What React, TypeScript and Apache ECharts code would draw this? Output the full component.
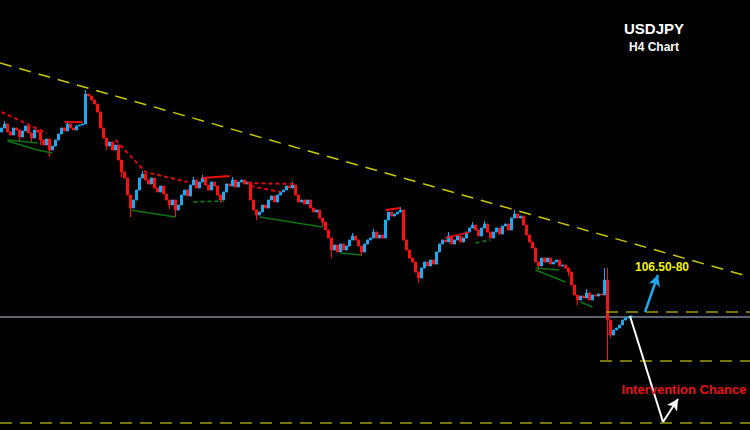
import React, { useEffect, useRef } from "react";
import * as echarts from "echarts";

// H4 closes (USDJPY), one per bar; opens follow the previous close
const firstOpen = 108.03;
const closes = [
  108.07, 108.11, 108.03, 108.0, 108.07, 108.05, 107.98, 108.04, 108.09, 108.02,
  107.97, 108.05, 108.03, 107.95, 107.9, 107.96, 107.85, 107.89, 107.95, 108.01,
  108.07, 108.04, 108.11, 108.07, 108.05, 108.09, 108.1, 108.11, 108.41, 108.39,
  108.35, 108.31, 108.23, 108.07, 107.97, 107.89, 107.93, 107.85, 107.9, 107.75,
  107.63, 107.57, 107.4, 107.27, 107.35, 107.45, 107.57, 107.61, 107.55, 107.51,
  107.57, 107.47, 107.43, 107.49, 107.41, 107.35, 107.3, 107.35, 107.25, 107.3,
  107.4, 107.45, 107.39, 107.5, 107.55, 107.47, 107.53, 107.57, 107.5, 107.45,
  107.53, 107.49, 107.4, 107.35, 107.43, 107.51, 107.49, 107.55, 107.48, 107.53,
  107.55, 107.51, 107.53, 107.35, 107.25, 107.2, 107.23, 107.3, 107.27, 107.35,
  107.39, 107.33, 107.4, 107.43, 107.45, 107.49, 107.47, 107.5, 107.4, 107.33,
  107.35, 107.31, 107.35, 107.27, 107.23, 107.25, 107.17, 107.13, 107.05, 106.97,
  106.85, 106.9, 106.83, 106.91, 106.85, 106.89, 106.95, 106.99, 106.95, 106.89,
  106.83, 106.91, 106.95, 106.97, 107.03, 106.97, 107.0, 106.97, 107.15, 107.23,
  107.19, 107.21, 107.23, 107.25, 106.95, 106.85, 106.77, 106.73, 106.63, 106.57,
  106.67, 106.73, 106.69, 106.75, 106.71, 106.83, 106.91, 106.95, 106.93, 106.99,
  106.91, 106.95, 106.99, 106.93, 106.97, 107.03, 107.07, 107.1, 107.05, 106.99,
  107.07, 107.11, 107.03, 106.97, 107.03, 107.07, 107.01, 107.09, 107.11, 107.05,
  107.17, 107.21, 107.17, 107.19, 107.1, 107.0, 106.93, 106.87, 106.73, 106.69,
  106.77, 106.73, 106.77, 106.71, 106.73, 106.75, 106.69, 106.7, 106.67, 106.63,
  106.5, 106.4, 106.35, 106.39, 106.37, 106.42, 106.35, 106.4, 106.39, 106.41,
  106.4, 106.55, 106.15, 106.0, 106.05, 106.07, 106.1, 106.15, 106.17, 106.18,
  106.19,
];
// bars whose wicks reach beyond the body: [bar, high, low]
const wicks: [number, number | null, number | null][] = [
  [1, 108.14, null],
  [6, null, 107.94],
  [10, null, 107.93],
  [13, null, 107.9],
  [16, null, 107.78],
  [22, 108.14, null],
  [28, 108.45, null],
  [35, null, 107.85],
  [40, null, 107.58],
  [43, null, 107.18],
  [47, 107.64, null],
  [56, null, 107.26],
  [58, null, 107.18],
  [64, 107.58, null],
  [67, 107.6, null],
  [73, null, 107.32],
  [77, 107.58, null],
  [85, null, 107.15],
  [97, 107.53, null],
  [107, null, 107.08],
  [110, null, 106.77],
  [117, 107.02, null],
  [120, null, 106.79],
  [124, 107.06, null],
  [133, 107.28, null],
  [139, null, 106.52],
  [149, 107.03, null],
  [157, 107.13, null],
  [161, 107.14, null],
  [171, 107.25, null],
  [179, null, 106.65],
  [189, null, 106.59],
  [192, null, 106.3],
  [195, 106.46, null],
  [201, 106.67, null],
  [202, 106.67, 105.75],
  [203, null, 105.97],
];
const totalSlots = 250;

// pattern lines: [bar, price] points
const redSolid = [
  [[21, 108.13], [27, 108.13]],
  [[67, 107.57], [76, 107.59]],
  [[128, 107.25], [133, 107.27]],
  [[148, 106.97], [156, 107.03]],
];
const redDashed = [
  [[0, 108.23], [15, 108.02]],
  [[38, 107.95], [48, 107.63], [62, 107.53]],
  [[82, 107.52], [98, 107.51]],
  [[83, 107.49], [93, 107.43]],
];
const greenSolid = [
  [[2, 107.95], [12, 107.92]],
  [[2, 107.94], [12, 107.85], [17, 107.82]],
  [[43, 107.25], [58, 107.18]],
  [[86, 107.18], [107, 107.08]],
  [[113, 106.82], [120, 106.8]],
  [[178, 106.65], [188, 106.53]],
  [[178, 106.67], [186, 106.65]],
  [[193, 106.33], [197, 106.28]],
];
const greenDashed = [
  [[64, 107.33], [74, 107.34]],
  [[158, 106.92], [163, 106.95]],
];
const trendLine = [[-0.5, 108.72], [249.5, 106.58]];
const upperLevel = [[201.5, 106.23], [249.5, 106.23]];
const middleLevel = [[199.5, 105.74], [249.5, 105.74]];
const lowerLevel = [[-0.5, 105.12], [249.5, 105.12]];
const priceLine = [[-0.5, 106.18], [249.5, 106.18]];
const blueArrow = [[214.5, 106.23], [218.8, 106.6]];
const whiteDrop = [[209.5, 106.19], [220.5, 105.13]];
const whiteBounce = [[220.5, 105.13], [225.5, 105.36]];

const yMin = 105.05;
const yMax = 109.35;

export default function App() {
  const ref = useRef<HTMLDivElement>(null);
  useEffect(() => {
    if (!ref.current) return;
    const chart = echarts.init(ref.current, null, { renderer: "svg" });
    const cats = Array.from({ length: totalSlots }, (_, i) => String(i));
    const wickMap = new Map(wicks.map((w) => [w[0], w]));
    const candles: any[] = [];
    let prev = firstOpen;
    closes.forEach((c, i) => {
      const o = prev;
      let hi = Math.max(o, c);
      let lo = Math.min(o, c);
      const w = wickMap.get(i);
      if (w) {
        if (w[1] != null) hi = Math.max(hi, w[1]);
        if (w[2] != null) lo = Math.min(lo, w[2]);
      }
      candles.push([o, c, lo, hi]);
      prev = c;
    });

    const lineSeries = (data: number[][], color: string, type: any, width: number, z = 3) => ({
      type: "line",
      xAxisIndex: 1,
      yAxisIndex: 0,
      data,
      symbol: "none",
      silent: true,
      z,
      lineStyle: { color, width, type },
    });

    const series: any[] = [
      {
        type: "candlestick",
        xAxisIndex: 0,
        data: candles,
        barWidth: 2,
        itemStyle: {
          color: "#1ea8ee",
          color0: "#ff1010",
          borderColor: "#1ea8ee",
          borderColor0: "#ff1010",
          borderWidth: 1,
        },
        z: 2,
      },
      ...redSolid.map((d) => lineSeries(d, "#ee1010", "solid", 1.8)),
      ...redDashed.map((d) => lineSeries(d, "#dd0c0c", [4, 3], 2)),
      ...greenSolid.map((d) => lineSeries(d, "#0c7410", "solid", 1.5)),
      ...greenDashed.map((d) => lineSeries(d, "#0c7410", [4, 3], 1.8)),
      lineSeries(trendLine, "#c9c900", [12, 8], 1.5),
      lineSeries(upperLevel, "#9d9d00", [12, 8], 1.5),
      lineSeries(middleLevel, "#9d9d00", [12, 8], 1.5),
      lineSeries(lowerLevel, "#9d9d00", [12, 8], 1.5),
      lineSeries(priceLine, "#7b8896", "solid", 1.5, 1),
      lineSeries(whiteDrop, "#ffffff", "solid", 2, 5),
      {
        type: "line",
        xAxisIndex: 1,
        data: [],
        silent: true,
        markLine: {
          silent: true,
          symbol: ["none", "arrow"],
          symbolSize: [9, 11],
          label: { show: false },
          animation: false,
          data: [
            [
              { coord: blueArrow[0], lineStyle: { color: "#1ea8ee", width: 2.5, type: "solid" } },
              { coord: blueArrow[1] },
            ],
            [
              { coord: whiteBounce[0], lineStyle: { color: "#ffffff", width: 2, type: "solid" } },
              { coord: whiteBounce[1] },
            ],
          ],
        },
      },
    ];

    const font = "Arial, 'Liberation Sans', sans-serif";
    chart.setOption({
      animation: false,
      backgroundColor: "#000000",
      grid: { left: 0, right: 0, top: 0, bottom: 0 },
      xAxis: [
        { type: "category", data: cats, show: false, boundaryGap: true },
        { type: "value", min: -0.5, max: totalSlots - 0.5, show: false },
      ],
      yAxis: [{ type: "value", min: yMin, max: yMax, show: false, scale: true }],
      graphic: [
        {
          type: "text",
          x: 654,
          y: 28,
          z: 100,
          style: { text: "USDJPY", fill: "#ffffff", font: `bold 15px ${font}`, align: "center", verticalAlign: "middle" },
        },
        {
          type: "text",
          x: 654,
          y: 47,
          z: 100,
          style: { text: "H4 Chart", fill: "#ffffff", font: `bold 12px ${font}`, align: "center", verticalAlign: "middle" },
        },
        {
          type: "text",
          x: 662,
          y: 267,
          z: 100,
          style: { text: "106.50-80", fill: "#f2f200", font: `bold 12px ${font}`, align: "center", verticalAlign: "middle" },
        },
        {
          type: "text",
          x: 684,
          y: 389,
          z: 100,
          style: {
            text: "Intervention Chance",
            fill: "#ee1111",
            font: `bold 13px ${font}`,
            align: "center",
            verticalAlign: "middle",
          },
        },
      ],
      series,
    });
    return () => chart.dispose();
  }, []);
  return (
    <div
      ref={ref}
      style={{ position: "fixed", left: 0, top: 0, width: 750, height: 430, background: "#000" }}
    />
  );
}
